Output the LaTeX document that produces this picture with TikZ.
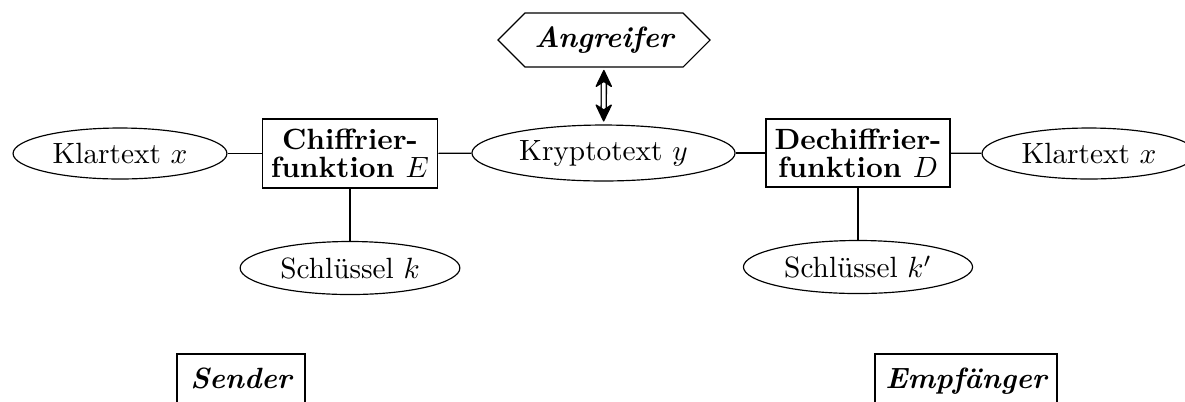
\documentclass[tikz,border=0pt]{standalone}
\usetikzlibrary{shapes.geometric,shapes.symbols,arrows.meta}
\begin{document}
\begin{tikzpicture}[x=0.3413pt,y=-0.3413pt,
  ell/.style={draw, ellipse, inner sep=0pt},
  fbox/.style={draw, rectangle, align=center, font=\bfseries\fontsize{10pt}{9.6pt}\selectfont, inner sep=0pt},
  pbox/.style={draw, rectangle, font=\bfseries\itshape, text height=7pt, text depth=2pt, minimum height=18.2pt, inner sep=0pt},
  hexa/.style={draw, signal, signal to=east and west, font=\bfseries\itshape, inner sep=0pt},
  con/.style={line width=0.4pt},
  dblarrow/.style={double, double distance=1.3pt, line width=0.45pt,
    {Stealth[round,length=6.5pt,width=6.2pt,inset=2pt]}-{Stealth[round,length=6.5pt,width=6.2pt,inset=2pt]},
    shorten <=0.8pt, shorten >=1pt}
]
\useasboundingbox (0,0) rectangle (1185,401);
\clip (0,0) rectangle (1185,401);
\node[ell, minimum width=73pt, minimum height=17.4pt] (k1) at (120,153.5) {Klartext $x$};
\node[fbox, minimum width=60pt, minimum height=23.5pt] (E) at (350,153.5) {Chiffrier-\\funktion $E$};
\node[ell, minimum width=89.8pt, minimum height=19.1pt] (y) at (603.5,153) {Kryptotext $y$};
\node[fbox, minimum width=62.8pt, minimum height=23.2pt] (D) at (858,153) {Dechiffrier-\\funktion $D$};
\node[ell, minimum width=73pt, minimum height=17.4pt] (k2) at (1089,153.5) {Klartext $x$};
\node[ell, minimum width=75pt, minimum height=18.1pt] (sk) at (350,268) {Schlüssel $k$};
\node[ell, minimum width=78.2pt, minimum height=18.1pt] (skp) at (858,267) {Schlüssel $k'$};
\node[hexa, minimum width=72.4pt, minimum height=18.4pt] (ang) at (604,40) {Angreifer};
\node[pbox, minimum width=43.7pt] (snd) at (241,380.7) {Sender};
\node[pbox, minimum width=62.1pt] (emp) at (966,380.7) {Empfänger};
\draw[con] (k1) -- (E);
\draw[con] (E) -- (y);
\draw[con] (y) -- (D);
\draw[con] (D) -- (k2);
\draw[con] (E) -- (sk);
\draw[con] (D) -- (skp);
\draw[dblarrow] (ang) -- (y);
\end{tikzpicture}
\end{document}
